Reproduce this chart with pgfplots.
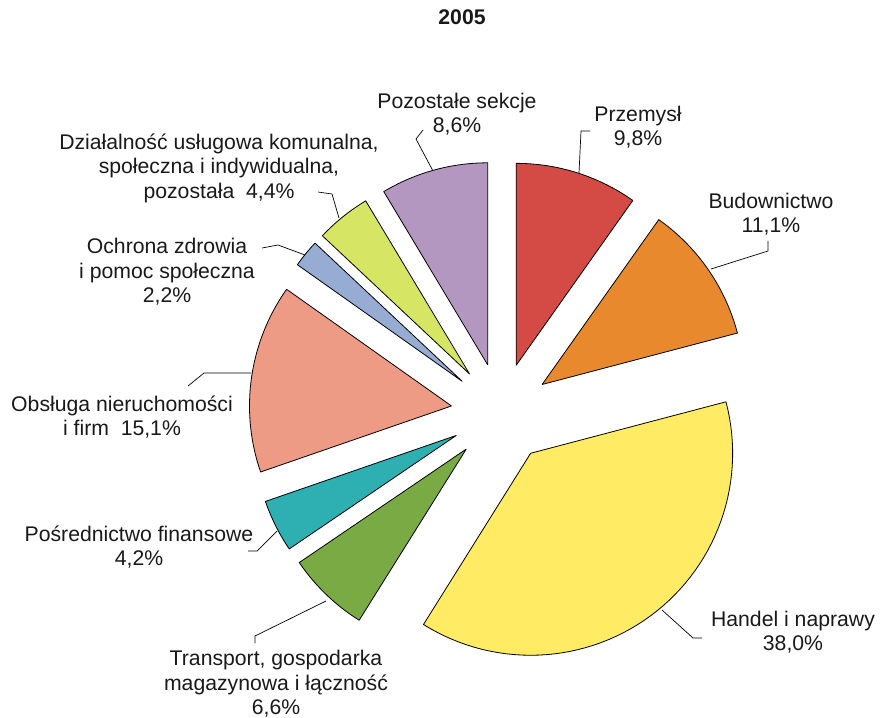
\documentclass[border=0pt]{standalone}
\usepackage{pgfplots}
\pgfplotsset{compat=1.18}
\usepackage{fontspec}
\setmainfont{Liberation Sans}
\definecolor{cPrz}{RGB}{212,74,69}
\definecolor{cBud}{RGB}{233,137,45}
\definecolor{cHan}{RGB}{255,235,100}
\definecolor{cTra}{RGB}{122,170,67}
\definecolor{cPos}{RGB}{46,176,178}
\definecolor{cObs}{RGB}{237,155,133}
\definecolor{cOch}{RGB}{151,172,211}
\definecolor{cDzi}{RGB}{215,229,101}
\definecolor{cPoz}{RGB}{180,151,192}
\tikzset{lab/.style={font=\fontsize{21.2}{24.5}\selectfont, align=center, text=black!90, inner sep=0pt}}
% pie geometry (centre, radius, explosion) in axis units
\def\cx{501}\def\cy{304}\def\R{202}\def\ex{50}
% #1 cumulative share before the slice (%), #2 share (%), #3 colour
\newcommand\slice[3]{%
  \pgfmathsetmacro\sA{#1*3.6}%
  \pgfmathsetmacro\sB{(#1+#2)*3.6}%
  \pgfmathsetmacro\sM{(\sA+\sB)/2}%
  \pgfmathsetmacro\ax{\cx+\ex*sin(\sM)}%
  \pgfmathsetmacro\ay{\cy+\ex*cos(\sM)}%
  \addplot[fill=#3, draw=black, line width=0.8pt, line join=round,
    variable=\t, samples at={0,1,...,62}]
    ({ifthenelse(\t<0.5 || \t>61.5, \ax, \ax+\R*sin(\sA+(\sB-\sA)*(\t-1)/60))},
     {ifthenelse(\t<0.5 || \t>61.5, \ay, \ay+\R*cos(\sA+(\sB-\sA)*(\t-1)/60))});
}
\begin{document}
\begin{tikzpicture}
\begin{axis}[
  scale only axis, width=880pt, height=717pt,
  xmin=0, xmax=880, ymin=0, ymax=717,
  hide axis, clip=false,
]
\path (rel axis cs:0,0) rectangle (rel axis cs:1,1);
\slice{0}{9.8}{cPrz}
\slice{9.8}{11.1}{cBud}
\slice{20.9}{38.0}{cHan}
\slice{58.9}{6.6}{cTra}
\slice{65.5}{4.2}{cPos}
\slice{69.7}{15.1}{cObs}
\slice{84.8}{2.2}{cOch}
\slice{87.0}{4.4}{cDzi}
\slice{91.4}{8.6}{cPoz}
% leader lines
\addplot[black, line width=0.7pt] coordinates {(433,546) (416,578) (423,587)};
\addplot[black, line width=0.7pt] coordinates {(579,544) (581,586) (590,586)};
\addplot[black, line width=0.7pt] coordinates {(711,448) (768,466) (768,476)};
\addplot[black, line width=0.7pt] coordinates {(339,499) (332,523) (318,525)};
\addplot[black, line width=0.7pt] coordinates {(305,462) (278,472) (262,469)};
\addplot[black, line width=0.7pt] coordinates {(251,344) (204,344) (188,331)};
\addplot[black, line width=0.7pt] coordinates {(277,186) (257,166) (248,166)};
\addplot[black, line width=0.7pt] coordinates {(326,116) (255,81) (255,74)};
\addplot[black, line width=0.7pt] coordinates {(662,107) (693,79) (702,79)};
% labels
\node[lab] at (axis cs:462,700) {\bfseries 2005};
\node[lab] at (axis cs:457,603) {Pozostałe sekcje\\8,6\%};
\node[lab] at (axis cs:638,590) {Przemysł\\9,8\%};
\node[lab] at (axis cs:771,503) {Budownictwo\\11,1\%};
\node[lab] at (axis cs:219,549) {Działalność usługowa komunalna,\\społeczna i indywidualna,\\pozostała\ \ 4,4\%};
\node[lab] at (axis cs:167,445) {Ochrona zdrowia\\i pomoc społeczna\\2,2\%};
\node[lab] at (axis cs:122,300) {Obsługa nieruchomości\\i firm\ \ 15,1\%};
\node[lab] at (axis cs:139,170) {Pośrednictwo finansowe\\4,2\%};
\node[lab] at (axis cs:276,33) {Transport, gospodarka\\magazynowa i łączność\\6,6\%};
\node[lab] at (axis cs:793,85) {Handel i naprawy\\38,0\%};
\end{axis}
\end{tikzpicture}
\end{document}
